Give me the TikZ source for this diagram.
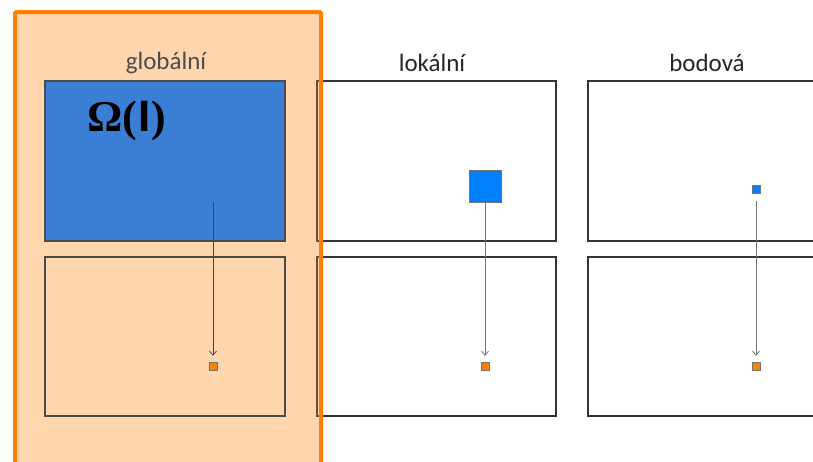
\documentclass[tikz,border=0pt]{standalone}
\usepackage{fontspec}
\setmainfont{Carlito}
\newfontfamily\omegafont{Liberation Serif}
\newfontfamily\ifont{Liberation Sans}
\usetikzlibrary{arrows.meta}
\definecolor{ored}{HTML}{FF8000}
\definecolor{bblue}{HTML}{0080FF}
\definecolor{gblue}{HTML}{3A7ED6}
\begin{document}
\begin{tikzpicture}[x=1pt,y=-1pt,
  panel/.style={draw=black!80,line width=1.3pt},
  lbl/.style={font=\fontsize{25}{27}\selectfont,text=black!85},
  osq/.style={draw=black!55,fill=ored,minimum size=8pt,inner sep=0pt,line width=0.6pt},
  bsq/.style={draw=black!55,fill=bblue,inner sep=0pt,line width=0.6pt},
  conn/.style={draw=black!55,line width=0.8pt,-{Straight Barb[length=4pt,width=7pt]}}]
\useasboundingbox (0,0) rectangle (813,461);
\fill[white] (0,0) rectangle (813,461);
% local
\node[lbl] (ll) at (432,63) {lokální};
\draw[panel] (317,81) rectangle (556,241);
\draw[panel] (317,257) rectangle (556,416);
\node[bsq,minimum size=32pt] (lb) at (485,186) {};
\node[osq] (lo) at (485,366) {};
\draw[conn] (lb.south) -- ([yshift=6pt]lo.north);
% point
\node[lbl] (lp) at (707,63) {bodová};
\draw[panel] (588,81) rectangle (830,241);
\draw[panel] (588,257) rectangle (830,416);
\node[bsq,minimum size=8pt] (pb) at (756,189) {};
\node[osq] (po) at (756,366) {};
\draw[conn] ([yshift=-8pt]pb.south) -- ([yshift=6pt]po.north);
% orange overlay
\fill[ored,opacity=0.32] (15,12) rectangle (321,475);
% global
\node[lbl,text=black!70] (lg) at (166,63) {globální};
\draw[panel,draw=black!70,fill=gblue] (45,81) rectangle (285,241);
\draw[panel,draw=black!70] (45,257) rectangle (285,416);
\node[font=\fontsize{44}{48}\selectfont\bfseries, anchor=west] (om) at (84,121) {\omegafont Ω(\kern1pt{\ifont I}\kern1pt)};
\coordinate (gs) at (213,202);
\node[osq] (go) at (213,366) {};
\draw[conn,draw=black!72] (gs) -- ([yshift=6pt]go.north);
\draw[draw=ored,line width=4pt,rounded corners=1.5pt] (15,12) rectangle (321,475);
\end{tikzpicture}
\end{document}
